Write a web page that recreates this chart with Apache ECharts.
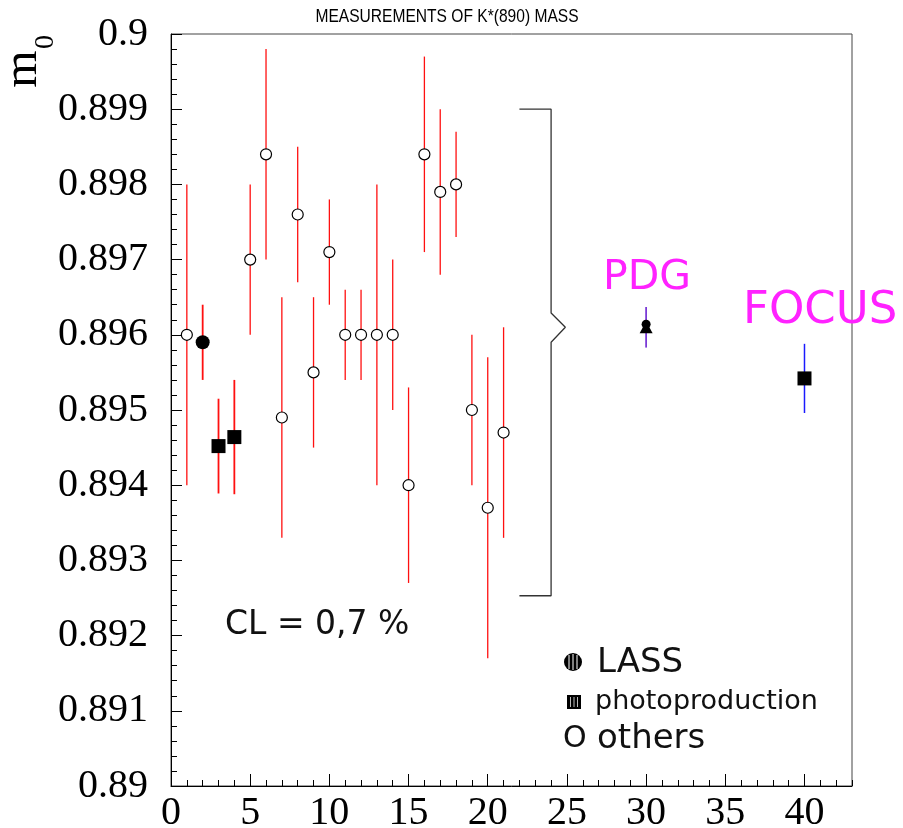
<!DOCTYPE html>
<html>
<head>
<meta charset="utf-8">
<script src="https://cdn.jsdelivr.net/npm/echarts@6/dist/echarts.min.js"></script>
<style>html,body{margin:0;padding:0;background:#fff;}#c{width:903px;height:828px;}</style>
</head>
<body>
<div id="c"></div>
<script>
// ---- data ----
const othersX = [1,5,6,7,8,9,10,11,12,13,14,15,16,17,18,19,20,21];
const othersY = [0.8960,0.8970,0.8984,0.8949,0.8976,0.8955,0.8971,0.8960,0.8960,0.8960,0.8960,0.8940,0.8984,0.8979,0.8980,0.8950,0.8937,0.8947];
const othersErr = [0.0020,0.0010,0.0014,0.0016,0.0009,0.0010,0.0007,0.0006,0.0006,0.0020,0.0010,0.0013,0.0013,0.0011,0.0007,0.0010,0.0020,0.0014];
const lassX = [2];
const lassY = [0.8959];
const lassErr = [0.0005];
const photoX = [3,4];
const photoY = [0.89452,0.89464];
const photoErr = [0.00063,0.00076];
const pdgX = [30];
const pdgY = [0.8961];
const pdgErr = [0.00027];
const focusX = [40];
const focusY = [0.89542];
const focusErr = [0.00046];
const bracketX = [22,24,24,24.9,24,24,22];
const bracketY = [0.8990,0.8990,0.89629,0.8961,0.8959,0.89253,0.89253];
const yTickLabels = ['0.89','0.891','0.892','0.893','0.894','0.895','0.896','0.897','0.898','0.899','0.9'];
const xTickLabels = ['0','5','10','15','20','25','30','35','40'];

const titleText = 'MEASUREMENTS OF K*(890) MASS';
const clText = 'CL = 0,7 %';

// ---- helpers ----
function pts(xs, ys, es){ return xs.map((x,i)=> es ? [x, ys[i], es[i]] : [x, ys[i]]); }
function errSeries(xs, ys, es, color, width){
  return {
    type:'custom', xAxisIndex:0, yAxisIndex:0, z:2,
    data: pts(xs, ys, es),
    renderItem: function(params, api){
      const x = api.value(0), y = api.value(1), e = api.value(2);
      const p1 = api.coord([x, y + e]);
      const p2 = api.coord([x, y - e]);
      return { type:'line', shape:{x1:p1[0], y1:p1[1], x2:p2[0], y2:p2[1]},
               style:{stroke:color, lineWidth:width} };
    }
  };
}

const chart = echarts.init(document.getElementById('c'), null, {renderer:'canvas'});
const serif = "'Liberation Serif','Times New Roman',serif";
const sans = "'DejaVu Sans',sans-serif";

const option = {
  animation:false,
  backgroundColor:'#fff',
  grid:{left:171, right:51, top:34, bottom:42, show:true, borderColor:'#444', borderWidth:1, containLabel:false, outerBoundsMode:'none'},
  xAxis:[{
    type:'value', min:0, max:43, interval:5, position:'bottom',
    axisLine:{show:true, onZero:false, lineStyle:{color:'#000', width:1}},
    axisTick:{show:true, inside:true, length:12, lineStyle:{color:'#000'}},
    minorTick:{show:false},
    splitLine:{show:false},
    axisLabel:{show:true, showMaxLabel:false, margin:7, fontFamily:serif, fontSize:40, color:'#000',
      formatter:(v)=>{ const i = xTickLabels.indexOf(String(Math.round(v))); return i>=0 && Math.abs(v-Math.round(v))<1e-9 ? xTickLabels[i] : ''; }}
  },{
    type:'value', min:0, max:43, interval:1, position:'bottom',
    axisLine:{show:false, onZero:false},
    axisTick:{show:true, inside:true, length:6, lineStyle:{color:'#000'}},
    axisLabel:{show:false}, splitLine:{show:false}
  }],
  yAxis:[{
    type:'value', min:0.89, max:0.9, interval:0.001,
    axisLine:{show:true, onZero:false, lineStyle:{color:'#000', width:1}},
    axisTick:{show:true, inside:true, length:11, lineStyle:{color:'#000'}},
    minorTick:{show:true, splitNumber:5, length:6, lineStyle:{color:'#000'}},
    splitLine:{show:false},
    axisLabel:{show:true, margin:23, fontFamily:serif, fontSize:40, color:'#000',
      formatter:(v)=>{ const i = Math.round((v-0.89)/0.001); return yTickLabels[i] !== undefined ? yTickLabels[i] : ''; }}
  }],
  series:[
    {type:'line', data: pts(bracketX, bracketY), symbol:'none', z:1,
     lineStyle:{color:'#333', width:1.3}, silent:true},
    errSeries(othersX, othersY, othersErr, '#ff1010', 1.3),
    errSeries(lassX, lassY, lassErr, '#ff1010', 1.8),
    errSeries(photoX, photoY, photoErr, '#ff1010', 1.8),
    errSeries(pdgX, pdgY, pdgErr, '#7a3ad6', 1.8),
    errSeries(focusX, focusY, focusErr, '#1a1aff', 1.5),
    {type:'scatter', data: pts(othersX, othersY), symbol:'circle', symbolSize:11, z:5,
     itemStyle:{color:'#fff', borderColor:'#000', borderWidth:1.2, opacity:1}},
    {type:'scatter', data: pts(lassX, lassY), symbol:'circle', symbolSize:14, z:5,
     itemStyle:{color:'#000', opacity:1}},
    {type:'scatter', data: pts(photoX, photoY), symbol:'rect', symbolSize:14, z:5,
     itemStyle:{color:'#000', opacity:1}},
    {type:'scatter', data: pts(pdgX, pdgY), symbol:'triangle', symbolSize:[13,12], z:5,
     itemStyle:{color:'#000', opacity:1}},
    {type:'scatter', data: pts(pdgX, pdgY), symbol:'circle', symbolSize:9, symbolOffset:[0,-3], z:5,
     itemStyle:{color:'#000', opacity:1}},
    {type:'scatter', data: pts(focusX, focusY), symbol:'rect', symbolSize:14, z:5,
     itemStyle:{color:'#000', opacity:1}}
  ],
  graphic:[
    {type:'text', x:447, y:17, scaleX:0.82, style:{text:titleText, fontFamily:"'Liberation Sans',Arial,sans-serif", fontSize:19, fill:'#000', align:'center', verticalAlign:'middle'}},
    {type:'text', x:23, y:69, rotation:Math.PI/2, style:{text:'m', fontFamily:serif, fontSize:48, fill:'#000', align:'center', verticalAlign:'middle'}},
    {type:'text', x:46, y:42, rotation:Math.PI/2, style:{text:'0', fontFamily:serif, fontSize:28, fill:'#000', align:'center', verticalAlign:'middle'}},
    {type:'text', x:603, y:278, style:{text:'PDG', fontFamily:sans, fontSize:41, fill:'#ff22ff', align:'left', verticalAlign:'middle'}},
    {type:'text', x:743, y:311, style:{text:'FOCUS', fontFamily:sans, fontSize:45, fill:'#ff22ff', align:'left', verticalAlign:'middle'}},
    {type:'text', x:225, y:625, style:{text:clText, fontFamily:sans, fontSize:33, fill:'#111', align:'left', verticalAlign:'middle'}},
    // legend
    {type:'circle', shape:{cx:573, cy:662, r:9}, style:{fill:'#000'}},
    {type:'line', shape:{x1:569, y1:655, x2:569, y2:669}, style:{stroke:'#fff', lineWidth:1}},
    {type:'line', shape:{x1:573, y1:654, x2:573, y2:670}, style:{stroke:'#fff', lineWidth:1}},
    {type:'line', shape:{x1:577, y1:655, x2:577, y2:669}, style:{stroke:'#fff', lineWidth:1}},
    {type:'text', x:597, y:663, style:{text:'LASS', fontFamily:sans, fontSize:34, fill:'#111', align:'left', verticalAlign:'middle'}},
    {type:'rect', shape:{x:567, y:695, width:14, height:14}, style:{fill:'#000'}},
    {type:'line', shape:{x1:570.5, y1:697, x2:570.5, y2:707}, style:{stroke:'#bbb', lineWidth:1}},
    {type:'line', shape:{x1:574, y1:697, x2:574, y2:707}, style:{stroke:'#bbb', lineWidth:1}},
    {type:'line', shape:{x1:577.5, y1:697, x2:577.5, y2:707}, style:{stroke:'#bbb', lineWidth:1}},
    {type:'text', x:595, y:702, style:{text:'photoproduction', fontFamily:sans, fontSize:27, fill:'#111', align:'left', verticalAlign:'middle'}},
    {type:'text', x:563, y:739, style:{text:'O', fontFamily:sans, fontSize:30, fill:'#111', align:'left', verticalAlign:'middle'}},
    {type:'text', x:597, y:739, style:{text:'others', fontFamily:sans, fontSize:34, fill:'#111', align:'left', verticalAlign:'middle'}}
  ]
};
chart.setOption(option);
</script>
</body>
</html>
